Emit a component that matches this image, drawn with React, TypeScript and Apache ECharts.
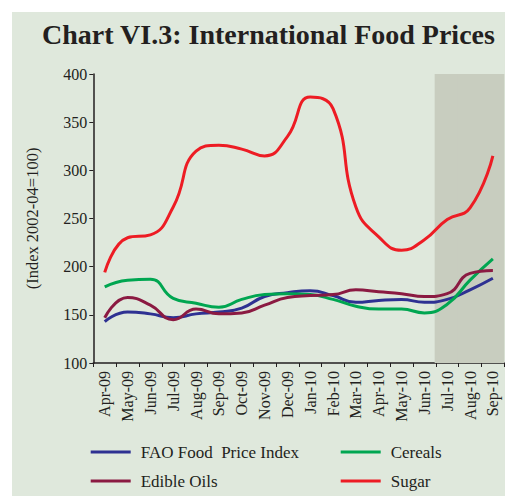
import React, { useEffect, useRef } from "react";
import * as echarts from "echarts";

const categories = ["Apr-09","May-09","Jun-09","Jul-09","Aug-09","Sep-09","Oct-09","Nov-09","Dec-09","Jan-10","Feb-10","Mar-10","Apr-10","May-10","Jun-10","Jul-10","Aug-10","Sep-10"];
const faoIndex = [143, 153, 151, 147, 151, 153, 157, 169, 173, 175, 170, 163, 165, 166, 163, 166, 176, 188];
const cereals = [179, 186, 187, 167, 162, 158, 166, 171, 172, 171, 166, 159, 156, 156, 152, 161, 186, 208];
const edibleOils = [147, 168, 160, 145, 156, 151, 152, 160, 168, 170, 171, 176, 174, 172, 169, 172, 193, 196];
const sugar = [194, 230, 233, 262, 320, 326, 322, 315, 335, 376, 364, 262, 231, 217, 228, 249, 261, 315];
const shadeCategories = ["Jul-10", "Aug-10", "Sep-10"];
const yTicks = { min: 100, max: 400, interval: 50 };

const FONT = "'Liberation Serif', 'Times New Roman', serif";
const TXT = "#231f20";

export default function App() {
  const ref = useRef<HTMLDivElement>(null);
  useEffect(() => {
    if (!ref.current) return;
    const chart = echarts.init(ref.current, undefined, { renderer: "svg" });
    const shade = categories.map((c) => (shadeCategories.includes(c) ? yTicks.max : null));
    const mk = (name: string, data: number[], color: string) => ({
      name,
      type: "line",
      data,
      smooth: 0.5,
      showSymbol: false,
      symbol: "none",
      lineStyle: { color, width: 3 },
      itemStyle: { color },
      z: 3,
    });
    chart.setOption({
      animation: false,
      backgroundColor: "#ffffff",
      graphic: [
        {
          type: "rect",
          shape: { x: 12, y: 12, width: 493, height: 484 },
          style: { fill: "#dfe8dc" },
          z: -10,
          silent: true,
        },
      ],
      title: {
        text: "Chart VI.3: International Food Prices",
        left: 42,
        top: 20,
        padding: 0,
        textStyle: { fontFamily: FONT, fontWeight: "bold", fontSize: 28, color: TXT },
      },
      grid: { left: 93.3, right: 0.7, top: 74, bottom: 133, containLabel: false },
      xAxis: {
        type: "category",
        data: categories,
        boundaryGap: true,
        axisLine: { lineStyle: { color: TXT, width: 1.5 } },
        axisTick: { show: true, length: 4, inside: false, alignWithLabel: false, lineStyle: { color: TXT } },
        axisLabel: { rotate: 90, interval: 0, margin: 8, fontFamily: FONT, fontSize: 16, color: TXT },
        splitLine: { show: false },
      },
      yAxis: {
        type: "value",
        min: yTicks.min,
        max: yTicks.max,
        interval: yTicks.interval,
        name: "(Index 2002-04=100)",
        nameLocation: "middle",
        nameRotate: 90,
        nameGap: 52,
        nameTextStyle: { fontFamily: FONT, fontSize: 16.5, color: TXT },
        axisLine: { show: true, lineStyle: { color: TXT, width: 1.5 } },
        axisTick: { show: true, length: 4, lineStyle: { color: TXT } },
        axisLabel: { margin: 6, fontFamily: FONT, fontSize: 16, color: TXT },
        splitLine: { show: false },
      },
      legend: [
        {
          data: ["FAO Food  Price Index", "Edible Oils"],
          orient: "vertical",
          left: 90.7,
          top: 443.5,
          padding: 0,
          itemWidth: 40,
          itemHeight: 3,
          itemGap: 12,
          icon: "rect",
          textStyle: { fontFamily: FONT, fontSize: 17, lineHeight: 17, color: TXT, padding: [0, 0, 0, 5] },
        },
        {
          data: ["Cereals", "Sugar"],
          orient: "vertical",
          left: 340.7,
          top: 443.5,
          padding: 0,
          itemWidth: 40,
          itemHeight: 3,
          itemGap: 12,
          icon: "rect",
          textStyle: { fontFamily: FONT, fontSize: 17, lineHeight: 17, color: TXT, padding: [0, 0, 0, 5] },
        },
      ],
      series: [
        {
          name: "shade",
          type: "bar",
          data: shade,
          barWidth: "110%",
          itemStyle: { color: "#c8cdbf" },
          silent: true,
          z: 1,
        },
        mk("FAO Food  Price Index", faoIndex, "#2e3192"),
        mk("Cereals", cereals, "#00a651"),
        mk("Edible Oils", edibleOils, "#8b1a42"),
        mk("Sugar", sugar, "#ed1c24"),
      ],
    });
    return () => chart.dispose();
  }, []);
  return <div ref={ref} style={{ position: "absolute", left: 0, top: 0, width: 505, height: 496 }} />;
}
